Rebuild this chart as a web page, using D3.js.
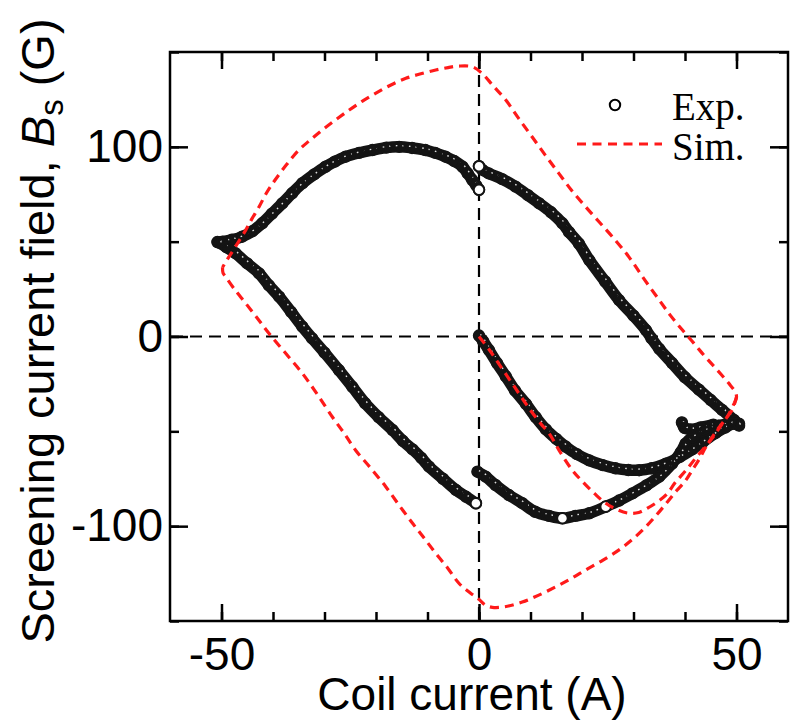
<!DOCTYPE html>
<html><head><meta charset="utf-8">
<script src="https://cdn.jsdelivr.net/npm/d3@7"></script>
<style>
html,body{margin:0;padding:0;background:#fff;}
svg{display:block;}
</style></head>
<body>
<svg id="chart" width="791" height="720"></svg>
<script>
// ---------- data ----------
const xTicksMajor = [-50, 0, 50];
const xTicksMinor = [-50, -40, -30, -20, -10, 0, 10, 20, 30, 40, 50];
const yTicksMajor = [-100, 0, 100];
const yTicksMinor = [-150, -100, -50, 0, 50, 100, 150];

// Experimental branches [coil current (A), Bs (G)]
const expVirgin = [[0,0.5],[0.8,-2.5],[1.9,-7],[3.5,-14],[5.2,-21],[7,-28.5],[9.1,-35.5],[11,-42.5],[13,-49],[15,-54],[16.8,-58],[19,-62],[21.4,-65.3],[24,-67.8],[26.5,-69.5],[29,-70.4],[31.1,-70.5],[33.5,-69.5],[36.3,-67],[39,-63.5],[41.4,-59.5],[43.5,-55.5],[45.9,-51],[47.8,-48],[49.3,-46],[50.3,-46.5]];
const expUpperRight = [[50.5,-47],[49.5,-44],[47.2,-38.7],[45,-33.5],[42.7,-28],[40,-21.5],[37.5,-14],[35,-6.5],[33.5,-1],[32.4,3.4],[30,11],[27.2,19.2],[24.5,29],[21.4,40.3],[19.4,49],[17.5,55],[16.2,59.7],[14,65.5],[11.7,70.2],[9.5,74.5],[7.1,79],[4.5,83],[1.9,86],[0.6,88],[0,89.8]];
const expUpperLeft = [[0,77.4],[-0.5,79.5],[-1.3,82.5],[-2.2,86],[-3.2,89.5],[-4.8,92.5],[-6.5,94.8],[-8.5,96.8],[-10.4,98.3],[-13,99.4],[-15.5,100],[-18,99.6],[-20.7,98.3],[-23.3,96.8],[-25.9,94.8],[-28,92.2],[-29.8,89.5],[-32,85.5],[-34.3,80.8],[-36.3,75.5],[-38.2,70.2],[-40.2,64.8],[-42.1,59.7],[-44,55.5],[-46,52.6],[-48,51],[-49.8,50],[-50.8,49.8]];
const expLowerLeft = [[-50.5,49.5],[-49,47],[-47.3,43.9],[-45,38.5],[-42.7,33.3],[-40.8,27],[-38.8,21],[-36.5,13],[-34.3,5.2],[-32.4,-1],[-30,-8.5],[-27.2,-17.7],[-24.6,-26.5],[-22.1,-35.2],[-19.5,-42.5],[-16.8,-49.3],[-14.8,-55],[-12.9,-59.5],[-11.2,-64],[-9.7,-68.6],[-7,-75],[-4.5,-80.9],[-2.5,-84.5],[-0.6,-87.9]];
const expLowerRight = [[-0.3,-71.3],[1.3,-73.9],[3.2,-78.3],[5.8,-83.6],[8.4,-87.9],[10.9,-92.4],[13.6,-94.6],[16.2,-95.8],[18.7,-94.6],[21.4,-93.2],[24.6,-89.7],[27.2,-86.5],[29.8,-82.7],[32.5,-78.5],[35,-73.9],[37.5,-67],[39.2,-61],[40.1,-56.5],[41.5,-53],[44,-49.3],[46.5,-47],[49.2,-45.8],[50.5,-46]];
const expGlitch = [[39.4,-45.3],[39.9,-48.2],[41,-49],[43,-48],[45.5,-46.5]];
const expOpenPoints = [[0,89.8],[0,77.4],[-0.6,-87.9],[16.2,-95.8],[24.6,-89.7]];

// Simulated loop
const simVirgin = [[0,0],[2,-7],[4.5,-17],[7,-27],[9.5,-37],[12,-46],[13.6,-51],[15.5,-59.8],[18.1,-70.4],[20.1,-76.5],[22.5,-83],[24.6,-87.9],[27,-91.5],[29.1,-93.2],[31,-92.8],[32.4,-91],[34.5,-87.5],[36.5,-83],[38.1,-77],[40.2,-70.5],[42.4,-63],[45,-54.6],[46.6,-48.5],[48.5,-41],[49.6,-35]];
const simDescending = [[49.6,-35],[50,-32],[49.8,-29.5],[48.5,-24.7],[46.2,-17.5],[43.9,-10.6],[41.7,-3.5],[39.5,3.4],[37.2,11],[35,19.2],[32,30.5],[29.1,42],[25.9,52.6],[23.3,60.5],[20.7,68.4],[18,77],[15.5,86],[12.9,95.5],[10.3,105.3],[7.7,115],[5.2,124.7],[2.8,132],[0.6,138.7],[-1.3,142.2],[-3.9,142.6],[-6,141.8],[-8.4,140.5],[-11.3,138.5],[-14.2,136.1],[-17.2,132.5],[-20.1,128.2],[-22.7,124],[-25.2,119.4],[-27.8,114.3],[-30.4,108.9],[-32.8,103.5],[-35,98.3],[-37.4,90.5],[-39.6,82.5],[-41.3,75.5],[-42.7,68.4],[-44.1,62],[-45.3,56.1],[-47.3,47.3],[-48.9,40.5],[-49.8,36.5]];
const simAscending = [[-49.8,36.5],[-49.7,33.5],[-49.2,31.5],[-47.5,25],[-45.3,17.5],[-43,9.5],[-40.8,1.7],[-37.5,-9],[-34.3,-19.4],[-31.4,-30.5],[-28.5,-42.3],[-26.2,-51],[-24,-59.8],[-21,-69.5],[-18.1,-79.2],[-15.5,-89],[-12.9,-98.5],[-10.6,-106.5],[-8.4,-114.3],[-6.1,-122],[-3.9,-130.1],[-1.8,-135],[0,-138.6],[1.2,-141.5],[2.6,-142.8],[5,-142.5],[8.4,-140],[11.5,-136.5],[14.9,-132],[17.8,-127.8],[20.7,-123.1],[24,-118],[27.2,-112.5],[30,-106.5],[32.4,-100.3],[34.5,-94],[36.5,-87.5],[38.3,-81.5],[40.1,-76],[41.4,-70.5],[42.8,-64.5],[44,-58.5],[45.3,-53],[46.6,-48],[48,-43],[49.2,-38.5],[50,-32]];

// ---------- layout ----------
const svg = d3.select("#chart");
const L = 170, R = 788, T = 52, B = 621;
const x = d3.scaleLinear().domain([-60, 60]).range([L, R]);
const y = d3.scaleLinear().domain([-150, 150]).range([B, T]);
const RED = "#ff1a1a";
const sans = "'Liberation Sans', Arial, Helvetica, sans-serif";
const serif = "'Liberation Serif', 'Times New Roman', serif";
const plainFmt = d => String(d);   // hyphen-minus, as in the reference

// zero reference lines
svg.append("line").attr("x1", x(-60)).attr("x2", x(60)).attr("y1", y(0)).attr("y2", y(0))
  .attr("stroke", "#000").attr("stroke-width", 2.2).attr("stroke-dasharray", "12,7").attr("stroke-dashoffset", -1);
svg.append("line").attr("x1", x(0)).attr("x2", x(0)).attr("y1", y(150)).attr("y2", y(-150))
  .attr("stroke", "#000").attr("stroke-width", 2.2).attr("stroke-dasharray", "12,7").attr("stroke-dashoffset", -4);

// experimental data
const line = d3.line().x(d => x(d[0])).y(d => y(d[1])).curve(d3.curveCatmullRom.alpha(0.5));
const expBranches = [expVirgin, expUpperRight, expUpperLeft, expLowerLeft, expLowerRight, expGlitch];
const gExp = svg.append("g");
expBranches.forEach(br => {
  gExp.append("path").attr("d", line(br)).attr("fill", "none")
    .attr("stroke", "#141414").attr("stroke-width", 11.5)
    .attr("stroke-linecap", "round").attr("stroke-linejoin", "round");
});
expBranches.forEach(br => {
  gExp.append("path").attr("d", line(br)).attr("fill", "none")
    .attr("stroke", "#fff").attr("stroke-width", 1.4).attr("stroke-opacity", 0.85)
    .attr("stroke-dasharray", "1.6,5").attr("transform", "translate(1.5,-1.2)");
});
expBranches.forEach(br => {
  gExp.selectAll(null).data(br).enter().append("circle")
    .attr("cx", d => x(d[0])).attr("cy", d => y(d[1])).attr("r", 5.3)
    .attr("fill", "none").attr("stroke", "#141414").attr("stroke-width", 1.8);
});
gExp.selectAll(null).data(expOpenPoints).enter().append("circle")
  .attr("cx", d => x(d[0])).attr("cy", d => y(d[1])).attr("r", 5.3)
  .attr("fill", "#fff").attr("stroke", "#141414").attr("stroke-width", 2);

// simulation
[simVirgin, simDescending, simAscending].forEach(br => {
  svg.append("path").attr("d", line(br)).attr("fill", "none")
    .attr("stroke", RED).attr("stroke-width", 3.2).attr("stroke-dasharray", "9,6");
});

// frame
svg.append("rect").attr("x", L).attr("y", T).attr("width", R - L).attr("height", B - T)
  .attr("fill", "none").attr("stroke", "#000").attr("stroke-width", 2.5);

// axes
function styleAxis(g) {
  g.select(".domain").remove();
  g.selectAll(".tick line").attr("stroke", "#000").attr("stroke-width", 2.5);
  g.selectAll(".tick text").attr("font-family", sans).attr("font-size", 46).attr("fill", "#000");
}
svg.append("g").attr("transform", `translate(0,${B})`)
  .call(d3.axisBottom(x).tickValues(xTicksMinor).tickSize(-9).tickFormat("")).call(styleAxis);
svg.append("g").attr("transform", `translate(0,${B})`)
  .call(d3.axisBottom(x).tickValues(xTicksMajor).tickSize(-17).tickPadding(16).tickFormat(plainFmt)).call(styleAxis);
svg.append("g").attr("transform", `translate(0,${T})`)
  .call(d3.axisTop(x).tickValues(xTicksMinor).tickSize(-9).tickFormat("")).call(styleAxis);
svg.append("g").attr("transform", `translate(0,${T})`)
  .call(d3.axisTop(x).tickValues(xTicksMajor).tickSize(-17).tickFormat("")).call(styleAxis);
svg.append("g").attr("transform", `translate(${L},0)`)
  .call(d3.axisLeft(y).tickValues(yTicksMinor).tickSize(-9).tickFormat("")).call(styleAxis);
svg.append("g").attr("transform", `translate(${L},0)`)
  .call(d3.axisLeft(y).tickValues(yTicksMajor).tickSize(-18).tickPadding(7).tickFormat(plainFmt)).call(styleAxis);
svg.append("g").attr("transform", `translate(${R},0)`)
  .call(d3.axisRight(y).tickValues(yTicksMinor).tickSize(-9).tickFormat("")).call(styleAxis);
svg.append("g").attr("transform", `translate(${R},0)`)
  .call(d3.axisRight(y).tickValues(yTicksMajor).tickSize(-18).tickFormat("")).call(styleAxis);

// axis titles
svg.append("text").attr("x", 472).attr("y", 710).attr("text-anchor", "middle")
  .attr("font-family", sans).attr("font-size", 46).attr("fill", "#000").text("Coil current (A)");
const yt = svg.append("text").attr("transform", "translate(54,331) rotate(-90)")
  .attr("text-anchor", "middle").attr("font-family", sans).attr("font-size", 47).attr("fill", "#000");
yt.append("tspan").text("Screening current field, ");
yt.append("tspan").attr("font-style", "italic").text("B");
yt.append("tspan").attr("font-size", 33).attr("dy", 9).text("s");
yt.append("tspan").attr("dy", -9).text(" (G)");

// legend
const lg = svg.append("g");
lg.append("circle").attr("cx", 615).attr("cy", 105).attr("r", 5.2)
  .attr("fill", "#fff").attr("stroke", "#000").attr("stroke-width", 2);
lg.append("text").attr("x", 672).attr("y", 120).attr("font-family", serif).attr("font-size", 39).attr("fill", "#000").text("Exp.");
lg.append("line").attr("x1", 577).attr("x2", 662).attr("y1", 144).attr("y2", 144)
  .attr("stroke", RED).attr("stroke-width", 3.2).attr("stroke-dasharray", "9,6.5");
lg.append("text").attr("x", 672).attr("y", 160).attr("font-family", serif).attr("font-size", 39).attr("fill", "#000").text("Sim.");
</script>
</body></html>
